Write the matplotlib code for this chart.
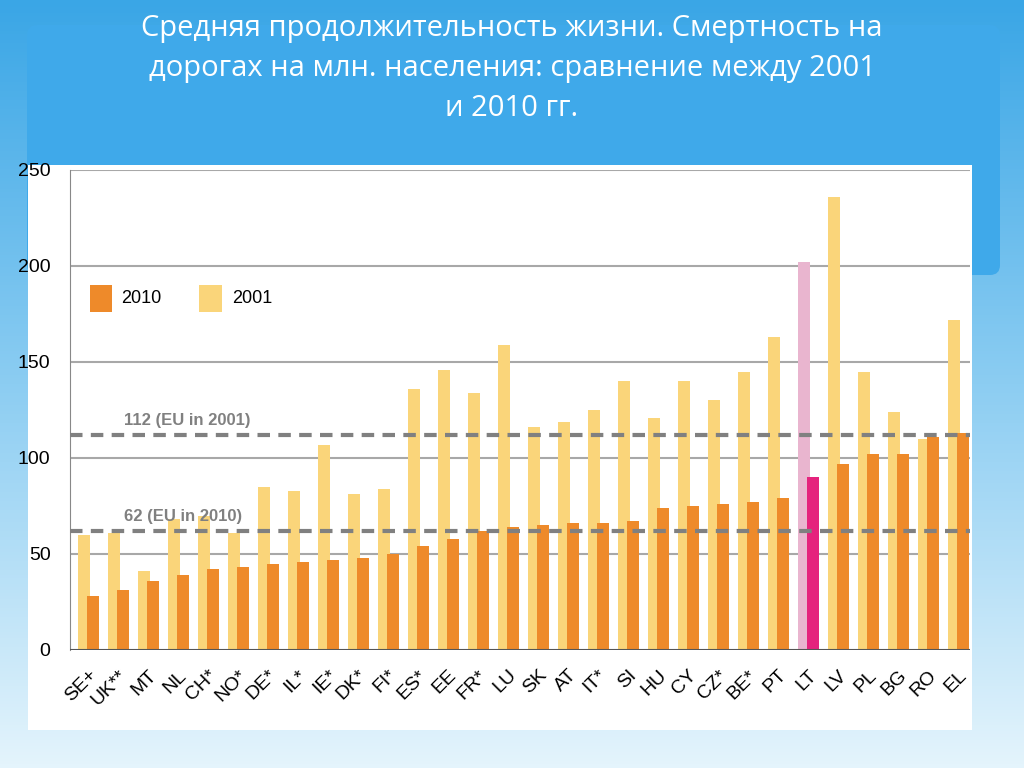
import matplotlib
matplotlib.use('Agg')
import matplotlib.pyplot as plt
import numpy as np
from matplotlib.patches import Rectangle, FancyBboxPatch

countries = ['SE+', 'UK**', 'MT', 'NL', 'CH*', 'NO*', 'DE*', 'IL*', 'IE*', 'DK*', 'FI*', 'ES*',
             'EE', 'FR*', 'LU', 'SK', 'AT', 'IT*', 'SI', 'HU', 'CY', 'CZ*', 'BE*', 'PT',
             'LT', 'LV', 'PL', 'BG', 'RO', 'EL']
val_2001 = [60, 61, 41, 68, 70, 61, 85, 83, 107, 81, 84, 136, 146, 134, 159, 116, 119, 125,
            140, 121, 140, 130, 145, 163, 202, 236, 145, 124, 110, 172]
val_2010 = [28, 31, 36, 39, 42, 43, 45, 46, 47, 48, 50, 54, 58, 62, 64, 65, 66, 66, 67, 74,
            75, 76, 77, 79, 90, 97, 102, 102, 111, 113]
eu_2001, eu_2010 = 112, 62
title = 'Средняя продолжительность жизни. Смертность на\nдорогах на млн. населения: сравнение между 2001\nи 2010 гг.'

W, H = 1024, 768
fig = plt.figure(figsize=(W / 100, H / 100), dpi=100)
fig.patch.set_facecolor('#cfe9f8')

# slide background
bg = fig.add_axes([0, 0, 1, 1]); bg.axis('off')
bg.set_xlim(0, W); bg.set_ylim(H, 0)
grad = np.linspace(0, 1, 256).reshape(-1, 1)
bg.imshow(grad, extent=[0, W, H, 0], cmap=matplotlib.colors.LinearSegmentedColormap.from_list(
    'b', ['#3aa6e6', '#8ccdf2', '#e4f4fc']), aspect='auto')
bg.add_patch(FancyBboxPatch((27, 25), 973, 250, boxstyle='round,pad=0,rounding_size=10',
                            fc='#3fa9ea', ec='none'))
bg.add_patch(Rectangle((28, 165), 944, 565, fc='white', ec='none'))
bg.text(512, 14, title, ha='center', va='top', color='white', fontsize=21,
        family=['Open Sans', 'DejaVu Sans'], linespacing=1.5)

ax = fig.add_axes([70 / W, 1 - 650 / H, 900 / W, 480 / H])
ax.set_facecolor('white')
x = np.arange(len(countries))
c01 = ['#fad57a'] * len(countries)
c10 = ['#ee8a2a'] * len(countries)
lt = countries.index('LT')
c01[lt], c10[lt] = '#e9b5cf', '#e5237d'
ax.bar(x - 0.12, val_2001, 0.4, color=c01, zorder=3)
ax.bar(x + 0.18, val_2010, 0.4, color=c10, zorder=4)

for v in [50, 100, 150, 200, 250]:
    ax.axhline(v, color='#a8a8a8', lw=1.5, zorder=1)
ax.axhline(0, color='#555555', lw=1.5, zorder=5)
for v in [eu_2001, eu_2010]:
    ax.axhline(v, color='#808080', lw=3, ls=(0, (3, 2)), zorder=6)
lab = dict(color='#808080', fontsize=12, fontweight='bold', family='Liberation Sans', zorder=7)
ax.text(1.2, eu_2001 + 5, f'{eu_2001} (EU in 2001)', **lab)
ax.text(1.2, eu_2010 + 5, f'{eu_2010} (EU in 2010)', **lab)

ax.add_patch(Rectangle((0.05, 176), 0.75, 14, fc='#ee8a2a', zorder=7))
ax.text(1.1, 183, '2010', va='center', fontsize=13, family='Liberation Sans')
ax.add_patch(Rectangle((3.7, 176), 0.75, 14, fc='#fad57a', zorder=7))
ax.text(4.8, 183, '2001', va='center', fontsize=13, family='Liberation Sans')

ax.set_xlim(-0.6, 29.4)
ax.set_ylim(0, 250)
ax.set_yticks([0, 50, 100, 150, 200, 250])
ax.set_yticklabels(['0', '50', '100', '150', '200', '250'], fontsize=14, family='Liberation Sans')
ax.set_xticks(x)
ax.set_xticklabels(countries, rotation=45, ha='right', rotation_mode='anchor', fontsize=14,
                   family='Liberation Sans')
ax.tick_params(length=0, pad=12)
ax.yaxis.set_tick_params(pad=14)
for s in ['top', 'right', 'bottom']:
    ax.spines[s].set_visible(False)
ax.spines['left'].set_color('#888888')

fig.savefig('out.png', dpi=100)
